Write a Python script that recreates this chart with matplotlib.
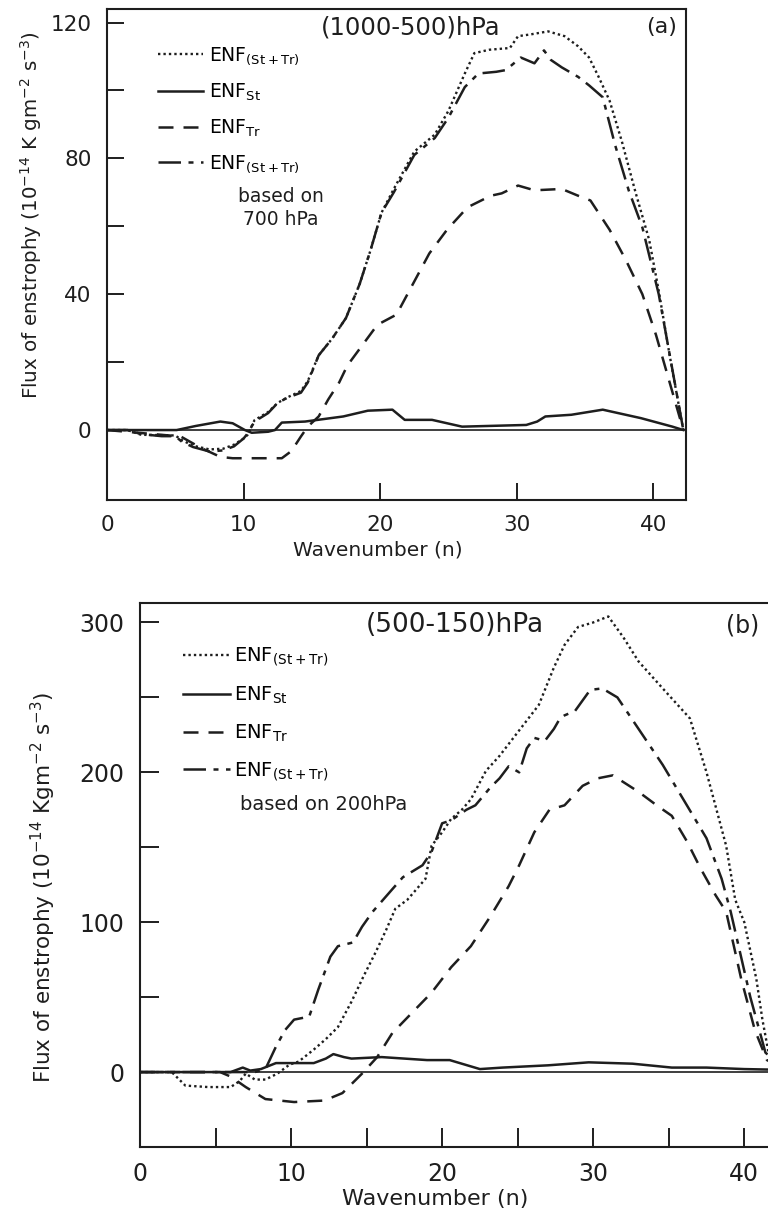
import matplotlib
matplotlib.use('Agg')
import matplotlib.pyplot as plt

plt.rcParams['font.family'] = ['DejaVu Sans']
plt.rcParams['mathtext.default'] = 'regular'

# ---- panel (a): 1000-500 hPa ----
n_tot_a = [0, 1.5, 2.5, 4, 5, 5.5, 6.3, 7.5, 8.5, 9.3, 10, 10.3, 10.8, 11.8, 12.5, 13.2, 14.2, 14.7, 15.5,
           16.5, 17.5, 18.5, 19.3, 20.1, 21, 22.5, 24, 25, 26.2, 26.9, 28, 29.5, 30.1, 31, 32.3, 33.5,
           34.5, 35.3, 36, 36.8, 37.7, 38.7, 39.7, 40.4, 41.2, 42.2]
v_tot_a = [0, 0, -1.4, -1.5, -1.6, -3, -4.6, -5.7, -5.5, -4.3, -2.5, -1.4, 2.9, 5.3, 8, 9.6, 11.5, 14.4, 22,
           27, 33, 43, 53, 64, 71, 82, 87, 94, 105, 111, 112, 112.5, 116, 116.5, 117.4, 116,
           113, 109.7, 104, 97, 85, 70, 56, 41, 22, 0]

n_st_a = [0, 5.1, 6.5, 8.3, 9.2, 10.1, 10.6, 11.8, 12.3, 12.8, 14.5, 17.3, 19.1, 20.9, 21.8, 23.8, 26,
          30.7, 31.5, 32.1, 34, 36.3, 39.1, 41.4, 42.2]
v_st_a = [0, 0, 1.2, 2.5, 2, 0, -0.8, -0.5, 0, 2.2, 2.5, 4, 5.7, 6, 3, 3, 1,
          1.5, 2.5, 4, 4.5, 6, 3.5, 1, 0]

n_tr_a = [0, 5.4, 6.9, 8.3, 9.2, 12.8, 13.5, 14.2, 14.7, 15.5, 16.2, 17, 17.6, 18.7, 19.8, 21.2, 22,
          23.6, 24.9, 26.4, 28.1, 28.9, 30.1, 31.3, 33.3, 34.5, 35.4, 36.8, 38, 39.2, 40.2, 41.2, 42.2]
v_tr_a = [0, -1.9, -5.3, -7.9, -8.3, -8.3, -6.2, -1.9, 1, 4, 9, 14, 19, 25, 31, 34, 40,
          52, 59, 65.6, 69, 69.7, 72, 70.6, 71, 69, 67.6, 59, 50, 40, 28, 14, 0]

n_alt_a = [0, 1.5, 2.5, 4, 5, 5.5, 6.3, 7.5, 8.5, 9.3, 10, 10.3, 10.8, 11.8, 12.5, 13.2, 14.2, 14.7, 15.5,
           16.5, 17.5, 18.5, 19.3, 20.1, 21, 22.5, 24, 25, 26.2, 27.2, 28.5, 29.2, 30.3, 31.3, 32,
           32.5, 33.3, 34.5, 35.3, 36.3, 37.2, 38.2, 39.2, 40.4, 41.3, 42.2]
v_alt_a = [0, 0, -1.2, -1.8, -1.8, -3.5, -5, -6.3, -6, -4.8, -2.5, -1, 2.5, 5, 8, 9.5, 11, 14, 22,
           27, 33, 43, 53, 64, 70, 81, 86, 92, 101, 105, 105.5, 106, 109.7, 108, 111.8,
           109, 106.8, 104, 101.5, 98, 84, 70.6, 59.7, 40, 20, 0]

# ---- panel (b): 500-150 hPa ----
n_tot_b = [0, 2.1, 3, 4.5, 6, 6.6, 7, 7.6, 8.3, 9.1, 9.9, 10.5, 11.5, 12.3, 13.1, 14, 14.8, 15.6, 16.3,
           16.9, 17.7, 18.9, 19.3, 20, 20.6, 21.3, 21.9, 22.9, 23.8, 25.1, 26.4, 27.4, 28.1, 29, 30,
           31, 32, 33, 34.6, 36.4, 37.5, 38.8, 39.4, 40, 40.8, 41.2, 41.7, 42.5]
v_tot_b = [0, 0, -9, -10, -10, -6, -1, -5, -5, -1, 5, 7, 15, 22, 30, 47, 64, 80, 95,
           109, 115, 129, 151, 160, 169, 175, 182, 201, 211, 228, 245, 270, 285, 297, 300,
           304, 290, 274, 256, 236, 200, 151, 115, 100, 62, 35, 8, 3]

n_st_b = [0, 6, 6.8, 7.3, 8, 9, 11.5, 12.3, 12.8, 13.5, 14, 16, 19, 20.5, 21.5, 22.5, 24, 27, 29.7,
          32.6, 35.2, 37.5, 40, 42.5]
v_st_b = [0, 0, 3, 1, 2, 6, 6, 9, 12, 10, 9, 10, 8, 8, 5, 2, 3, 4.5, 6.5,
          5.6, 3, 3, 2, 1.5]

n_tr_b = [0, 5.3, 6, 7, 8.3, 10.2, 12.2, 13.4, 14.7, 15.7, 16.7, 18, 19.3, 20.6, 21.9, 23.2, 24.4, 25.1,
          26.1, 27.1, 28.1, 29.3, 30.3, 31.3, 33, 34.2, 35.2, 36.2, 37.1, 38.1, 38.8, 39.8, 40.7,
          41.5, 42.5]
v_tr_b = [0, 0, -3, -10, -18, -20, -19, -14, -1, 10, 26, 39.5, 53, 70, 84, 104, 124, 138,
          160, 175, 178, 191, 196, 198, 187, 178, 171, 154, 136, 118, 107, 62, 28,
          8, 3]

n_alt_b = [0, 7.6, 8.3, 9, 9.6, 10.2, 11.2, 11.8, 12.6, 13.1, 14.1, 14.7, 15.4, 16.7, 17.4, 18.7, 19.3,
           20, 20.6, 21.6, 22.2, 23.2, 23.8, 24.4, 25.1, 25.6, 26.1, 26.8, 27.4, 27.8, 28.1, 28.8,
           29.8, 30.6, 31.6, 33, 34.6, 36.2, 37.5, 38.5, 39.1, 40.4, 41.4, 42.5]
v_alt_b = [0, 0, 2, 17, 28, 35, 37, 55, 77, 84, 86.5, 97, 107, 122, 130, 138, 147,
           166, 168, 175, 178, 190, 196, 204, 200, 216, 223, 221, 229, 236, 238, 241,
           255, 256, 250, 229, 205, 178, 156, 129, 107, 50, 13, 3]

INK = '#1e1e1e'
dot_style = (0, (1, 1.3))
dash_style = (0, (6, 4))
dashdot_style = (0, (9, 3, 2, 3))

fig = plt.figure(figsize=(7.68, 12.13), dpi=100)
fig.patch.set_facecolor('white')

ax_a = fig.add_axes([0.1393, 0.5878, 0.754, 0.4048])
ax_b = fig.add_axes([0.1823, 0.0544, 0.836, 0.4485])

lab_tot = r'ENF$_{(St+Tr)}$'
lab_st = r'ENF$_{St}$'
lab_tr = r'ENF$_{Tr}$'

# panel (a)
h1, = ax_a.plot(n_tot_a, v_tot_a, color=INK, lw=1.7, linestyle=dot_style)
h2, = ax_a.plot(n_st_a, v_st_a, color=INK, lw=1.8, linestyle='-')
h3, = ax_a.plot(n_tr_a, v_tr_a, color=INK, lw=1.8, linestyle=dash_style)
h4, = ax_a.plot(n_alt_a, v_alt_a, color=INK, lw=1.8, linestyle=dashdot_style)
ax_a.axhline(0, color=INK, lw=1.2)
ax_a.set_xlim(0, 42.4)
ax_a.set_ylim(-20.6, 124)
ax_a.set_xticks([0, 10, 20, 30, 40])
ax_a.set_yticks([0, 40, 80, 120])
ax_a.set_yticks([20, 60, 100], minor=True)

ax_a.legend([h1, h2, h3, h4], [lab_tot, lab_st, lab_tr, lab_tot], loc='upper left',
            bbox_to_anchor=(0.075, 0.94), frameon=False, fontsize=13.5, handlelength=2.4,
            handletextpad=0.3, labelspacing=0.78, borderaxespad=0)
ax_a.text(0.30, 0.595, 'based on\n700 hPa', transform=ax_a.transAxes, ha='center', va='center',
          fontsize=13.5, color=INK, multialignment='center', linespacing=1.3)
ax_a.text(0.525, 0.963, '(1000-500)hPa', transform=ax_a.transAxes, ha='center', va='center',
          fontsize=17.5, color=INK)
ax_a.text(0.958, 0.963, '(a)', transform=ax_a.transAxes, ha='center', va='center',
          fontsize=16, color=INK)
ax_a.set_xlabel('Wavenumber (n)', fontsize=14.5, color=INK)
ax_a.xaxis.set_label_coords(0.468, -0.083)
ax_a.set_ylabel(r'Flux of enstrophy (10$^{-14}$ K gm$^{-2}$ s$^{-3}$)', fontsize=14.3, color=INK)
ax_a.yaxis.set_label_coords(-0.108, 0.58)

# panel (b)
g1, = ax_b.plot(n_tot_b, v_tot_b, color=INK, lw=1.7, linestyle=dot_style)
g2, = ax_b.plot(n_st_b, v_st_b, color=INK, lw=1.8, linestyle='-')
g3, = ax_b.plot(n_tr_b, v_tr_b, color=INK, lw=1.8, linestyle=dash_style)
g4, = ax_b.plot(n_alt_b, v_alt_b, color=INK, lw=1.8, linestyle=dashdot_style)
ax_b.axhline(0, color=INK, lw=1.2)
ax_b.set_xlim(0, 42.5)
ax_b.set_ylim(-50, 313)
ax_b.set_xticks([0, 10, 20, 30, 40])
ax_b.set_xticks([5, 15, 25, 35], minor=True)
ax_b.set_yticks([0, 100, 200, 300])
ax_b.set_yticks([50, 150, 250], minor=True)

ax_b.legend([g1, g2, g3, g4], [lab_tot, lab_st, lab_tr, lab_tot], loc='upper left',
            bbox_to_anchor=(0.055, 0.935), frameon=False, fontsize=14, handlelength=2.4,
            handletextpad=0.2, labelspacing=0.85, borderaxespad=0)
ax_b.text(0.155, 0.63, 'based on 200hPa', transform=ax_b.transAxes, ha='left', va='center',
          fontsize=14, color=INK)
ax_b.text(0.49, 0.96, '(500-150)hPa', transform=ax_b.transAxes, ha='center', va='center',
          fontsize=19, color=INK)
ax_b.text(0.938, 0.958, '(b)', transform=ax_b.transAxes, ha='center', va='center',
          fontsize=17, color=INK)
ax_b.set_xlabel('Wavenumber (n)', fontsize=16, color=INK)
ax_b.xaxis.set_label_coords(0.46, -0.077)
ax_b.set_ylabel(r'Flux of enstrophy (10$^{-14}$ Kgm$^{-2}$ s$^{-3}$)', fontsize=15.5, color=INK)
ax_b.yaxis.set_label_coords(-0.128, 0.477)

for ax, tl, ls in ((ax_a, 12, 15.5), (ax_b, 14, 17)):
    for s in ax.spines.values():
        s.set_linewidth(1.5)
        s.set_color(INK)
    ax.tick_params(which='both', direction='in', length=tl, width=1.4, colors=INK,
                   labelsize=ls, pad=11)

fig.savefig('out.png', dpi=100, facecolor='white')
